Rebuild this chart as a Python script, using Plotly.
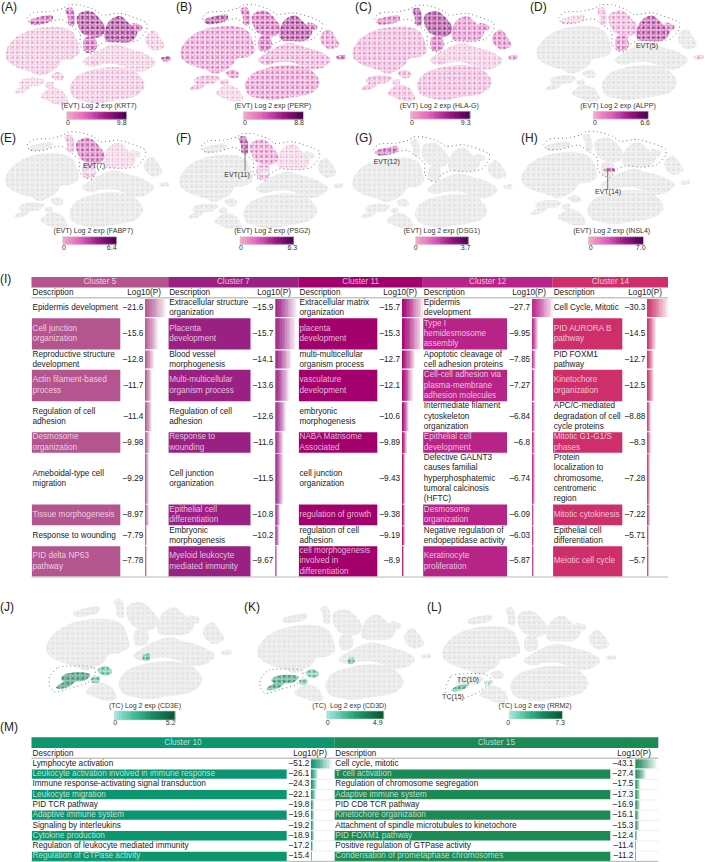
import plotly.graph_objects as go

W, H = 709, 862

# ---------- t-SNE map regions ----------
big_left = [(16,160),(30,130),(48,112),(85,92),(130,82),(190,83),(220,98),(236,138),(238,160),(215,177),(185,182),(172,202),(150,217),(120,228),(95,217),(70,209),(40,197),(20,180)]
low_right = [(210,262),(222,238),(240,223),(300,205),(370,203),(412,220),(434,255),(417,282),(385,295),(340,302),(290,310),(250,304),(220,292)]
mid_right = [(248,186),(275,163),(305,146),(345,133),(390,146),(430,158),(467,185),(447,207),(410,216),(375,202),(345,192),(300,194),(268,200)]
tc_up = [(56,250),(68,238),(110,233),(134,240),(120,256),(92,260),(70,264)]
tc_low = [(42,277),(60,262),(92,258),(80,272),(55,280)]
low_center = [(122,290),(150,263),(175,266),(194,280),(204,308),(175,314),(142,302)]
small_mid = [(153,226),(175,216),(192,228),(187,240),(165,240)]
evt12 = [(88,62),(120,50),(157,46),(157,61),(125,72),(95,74)]
evt11 = [(196,28),(215,23),(224,45),(222,77),(206,74),(203,50)]
evt7 = [(233,45),(270,33),(302,60),(317,90),(297,112),(250,102),(233,75)]
evt5 = [(313,105),(328,63),(360,48),(387,70),(412,95),(397,122),(350,127),(318,122)]
evt5b = [(398,70),(427,80),(420,94),(400,86)]
far_right = [(438,108),(460,90),(480,112),(492,140),(462,152),(438,130)]
tiny = [(483,175),(510,170),(512,180),(490,184)]
evt7b = [(253,115),(284,110),(287,150),(256,157)]
evt14 = [(261,133),(290,133),(290,141),(261,141)]
tc_b = [(136,250),(158,246),(158,260),(138,262)]
tc_c = [(275,184),(292,180),(292,197),(276,198)]
REGIONS = [big_left, low_right, mid_right, tc_up, tc_low, low_center, small_mid, evt12, evt11,
           evt7, evt5, evt5b, far_right, tiny, evt7b, evt14, tc_b, tc_c]

evt_outline = [(82,55),(100,38),(150,35),(190,25),(205,15),(240,15),(285,30),(305,45),(360,40),(440,70),(440,90),(415,120),(370,128),(320,125),(290,140),(280,160),(255,155),(240,135),(240,100),(210,75),(185,58),(160,62),(130,72),(90,70),(82,55)]
tc_outline = [(25,246),(49,219),(143,219),(147,239),(125,264),(80,278),(40,290),(25,273),(25,246)]
tc2_outline = [(25,270),(42,232),(90,225),(140,228),(158,245),(122,280),(80,300),(40,308),(28,292),(25,270)]

# ---------- expression level per region, per gene ----------
KRT7 = [.12,.12,.08,.06,.06,.08,.12,.6,.6,.8,.85,.6,.1,.7,.6,.6,.1,.2]
PERP = [.3,.32,.25,.2,.2,.04,.35,.75,.5,.55,.8,.6,.3,.6,.55,.5,.2,.3]
HLAG = [.22,.2,.1,.22,.2,.18,.25,.45,.75,.85,.35,.45,.4,.35,.5,.5,.1,.2]
ALPP = [0,0,0,0,0,0,0,.06,.15,.25,.7,.45,0,.15,.4,.3,0,0]
FABP7 = [0,0,0,0,0,0,0,0,.2,.55,.03,0,0,0,.2,0,0,0]
PSG2 = [0,0,0,0,0,0,0,0,.7,.3,.04,0,0,0,.2,0,0,0]
DSG1 = [0,0,0,0,0,0,0,.6,0,0,0,0,0,0,0,0,0,0]
INSL4 = [0,0,0,0,0,0,0,0,0,0,0,0,0,0,0,.7,0,0]
CD3E = [0,0,0,.9,.9,0,.55,0,0,0,0,0,0,0,0,0,.6,.7]
CD3D = [0,0,0,.82,.82,0,.5,0,0,0,0,0,0,0,0,0,.55,.65]
RRM2 = [0,0,0,0,.7,0,0,0,0,0,0,0,0,0,0,0,.15,0]

# ---------- enrichment tables ----------
c5_desc = ["Epidermis development","Cell junction<br>organization","Reproductive structure<br>development","Actin filament-based<br>process","Regulation of cell<br>adhesion","Desmosome<br>organization","Ameboidal-type cell<br>migration","Tissue morphogenesis","Response to wounding","PID delta NP63<br>pathway"]
c5_vals = [21.6,15.6,12.8,11.7,11.4,9.98,9.29,8.97,7.79,7.78]
c7_desc = ["Extracellular structure<br>organization","Placenta<br>development","Blood vessel<br>morphogenesis","Multi-multicellular<br>organism process","Regulation of cell<br>adhesion","Response to<br>wounding","Cell junction<br>organization","Epithelial cell<br>differentiation","Embryonic<br>morphogenesis","Myeloid leukocyte<br>mediated immunity"]
c7_vals = [15.9,15.7,14.1,13.6,12.6,11.6,11.5,10.8,10.2,9.67]
c11_desc = ["Extracellular matrix<br>organization","placenta<br>development","multi-multicellular<br>organism process","vasculature<br>development","embryonic<br>morphogenesis","NABA Matrisome<br>Associated","cell junction<br>organization","regulation of growth","regulation of cell<br>adhesion","cell morphogenesis<br>involved in<br>differentiation"]
c11_vals = [15.7,15.3,12.7,12.1,10.6,9.89,9.43,9.38,9.19,8.9]
c12_desc = ["Epidermis<br>development","Type I<br>hemidesmosome<br>assembly","Apoptotic cleavage of<br>cell adhesion proteins","Cell-cell adhesion via<br>plasma-membrane<br>adhesion molecules","Intermediate filament<br>cytoskeleton<br>organization","Epithelial cell<br>development","Defective GALNT3<br>causes familial<br>hyperphosphatemic<br>tumoral calcinosis<br>(HFTC)","Desmosome<br>organization","Negative regulation of<br>endopeptidase activity","Keratinocyte<br>proliferation"]
c12_vals = [27.7,9.95,7.85,7.27,6.84,6.8,6.74,6.09,6.03,5.87]
c14_desc = ["Cell Cycle, Mitotic","PID AURORA B<br>pathway","PID FOXM1<br>pathway","Kinetochore<br>organization","APC/C-mediated<br>degradation of cell<br>cycle proteins","Mitotic G1-G1/S<br>phases","Protein<br>localization to<br>chromosome,<br>centromeric<br>region","Mitotic cytokinesis","Epithelial cell<br>differentiation","Meiotic cell cycle"]
c14_vals = [30.3,14.5,12.7,12.5,8.88,8.3,7.28,7.22,5.71,5.7]
c10_desc = ["Lymphocyte activation","Leukocyte activation involved in immune response","Immune response-activating signal transduction","Leukocyte migration","PID TCR pathway","Adaptive immune system","Signaling by interleukins","Cytokine production","Regulation of leukocyte mediated immunity","Regulation of GTPase activity"]
c10_vals = [51.2,26.1,24.3,22.1,19.8,19.6,19.2,18.9,17.2,15.4]
c15_desc = ["Cell cycle, mitotic","T cell activation","Regulation of chromosome segregation","Adaptive immune system","PID CD8 TCR pathway","Kinetochore organization","Attachment of spindle microtubules to kinetochore","PID FOXM1 pathway","Positive regulation of GTPase activity","Condensation of prometaphase chromosomes"]
c15_vals = [43.1,27.4,17.5,17.3,16.9,16.1,15.3,12.4,11.4,11.2]

# ---------- styling ----------
FONT = "Liberation Sans"
PINK = ["#f4a6c9", "#de5cb8", "#9c1488", "#4d0050"]
GREEN = ["#a2e6de", "#3cbb90", "#14865a", "#0a5a36"]

def rgb(c):
    return tuple(int(c[i:i+2], 16) for i in (1, 3, 5))

def mix(a, b, t):
    a, b = rgb(a), rgb(b)
    return "#%02x%02x%02x" % tuple(round(a[i] + (b[i] - a[i]) * t) for i in range(3))

def ramp(stops, t):
    t = max(0, min(1, t)) * (len(stops) - 1)
    i = min(int(t), len(stops) - 2)
    return mix(stops[i], stops[i + 1], t - i)

# panel: gene values, palette, outline, origin px (x,y), scale (x,y)
PANELS = [
    (KRT7, PINK, evt_outline, 0, 0, 1.0, 1.0),
    (PERP, PINK, evt_outline, 175, 0, 1.0, .97),
    (HLAG, PINK, evt_outline, 347, .7, 1.0, .96),
    (ALPP, PINK, evt_outline, 531, 0, 1.01, .97),
    (FABP7, PINK, evt_outline, 0, 127.3, .99, .97),
    (PSG2, PINK, evt_outline, 174, 129, .99, .96),
    (DSG1, PINK, evt_outline, 347, 132.5, .97, .92),
    (INSL4, PINK, evt_outline, 516, 127, 1.02, .94),
    (CD3E, GREEN, tc_outline, 40.3, 590.7, 1.12, 1.05),
    (CD3D, GREEN, tc_outline, 251.7, 598.7, 1.05, .98),
    (RRM2, GREEN, tc2_outline, 436.7, 600, 1.05, .98),
]
TX, TY = 520, 345

# colour bars: title, max, x0, x1, y0, y1, title x, title y, x of 0, x of max, tick y, palette
BARS = [
    ("(EVT) Log 2 exp (KRT7)", "9.8", 66.7, 126.7, 111.7, 119.3, 99, 106, 68, 121.7, 123, PINK),
    ("(EVT) Log 2 exp (PERP)", "8.8", 243.3, 303.7, 111.7, 119.3, 272.7, 106, 245, 299, 123, PINK),
    ("(EVT) Log 2 exp (HLA-G)", "9.3", 410.3, 470, 111.2, 119, 439.3, 106, 412, 465.7, 123, PINK),
    ("(EVT) Log 2 exp (ALPP)", "6.6", 593.3, 648.3, 111.2, 119, 618, 106, 595, 645, 123, PINK),
    ("(EVT) Log 2 exp (FABP7)", "6.4", 62.7, 116.7, 236.7, 244.3, 93.3, 231.7, 64, 111.7, 248.3, PINK),
    ("(EVT) Log 2 exp (PSG2)", "6.3", 240, 293.7, 236.7, 244.3, 272.3, 231.7, 241, 292.3, 248.3, PINK),
    ("(EVT) Log 2 exp (DSG1)", "3.7", 415.7, 468.3, 236.7, 244.3, 441.7, 231.7, 415.7, 465.7, 248.3, PINK),
    ("(EVT) Log 2 exp (INSL4)", "7.0", 588.3, 643.7, 236.7, 244.3, 611.7, 231.7, 590.7, 640.7, 248.3, PINK),
    ("(TC) Log 2 exp (CD3E)", "5.2", 114.3, 175, 711, 720, 145, 706.3, 115.3, 170.7, 723.7, GREEN),
    ("(TC)  Log 2 exp (CD3D)", "4.9", 326.7, 384, 711, 719, 349.3, 706.3, 327.7, 377.7, 723.7, GREEN),
    ("(TC) Log 2 exp (RRM2)", "7.3", 509.3, 562.7, 711, 719, 535, 706.3, 508.3, 560, 723.7, GREEN),
]

PANEL_LABELS = [("(A)",1,8),("(B)",176,8),("(C)",355,8),("(D)",530,8),("(E)",0,139),("(F)",176,139),
                ("(G)",355,139),("(H)",521,139),("(I)",0,280),("(J)",0,608),("(K)",244,608),("(L)",427,608),("(M)",0,728)]
CALLOUTS = [("EVT(5)",647,46.7),("EVT(7)",94,166),("EVT(11)",237,175),("EVT(12)",386.7,162),("EVT(14)",608,192.7),("TC(10)",468,680),("TC(15)",453,697.7)]
LEADERS = [(245,148,245,170.7),(607.7,170.7,607.7,189)]

TABLE_I = [
    ("Cluster 5", c5_desc, c5_vals, "#b4558f", 31.5, 168.2, 120.3, 143.3, 145, 161),
    ("Cluster 7", c7_desc, c7_vals, "#9b2084", 168.2, 298.5, 250.5, 273.3, 275.3, 291),
    ("Cluster 11", c11_desc, c11_vals, "#a3006e", 298.5, 422.8, 377.3, 400, 402, 417),
    ("Cluster 12", c12_desc, c12_vals, "#b82388", 422.8, 552.7, 507, 530, 532, 546),
    ("Cluster 14", c14_desc, c14_vals, "#ce2f6a", 552.7, 668, 622.3, 645.3, 647, 662),
]
I_EDGES = [298.5, 317.7, 350, 369.3, 401.7, 431.7, 453.3, 504, 525.7, 545.7, 577]
TABLE_M = [
    ("Cluster 10", c10_desc, c10_vals, "#0b9670", 31.5, 334.3, 286.7, 309.3, 311, 327),
    ("Cluster 15", c15_desc, c15_vals, "#1b8a55", 334.3, 658.3, 610.3, 633.3, 635.3, 651),
]
M_EDGES = [758.8 + 10.26 * i for i in range(11)]
LINE_H = 10.3
TS = 8.2

# the page axes are numbered last so that they are drawn over every map
PX, PY = "x12", "y12"

fig = go.Figure()
shapes = []
layout_axes = dict(
    xaxis12=dict(domain=[0, 1], range=[0, W], visible=False, fixedrange=True, anchor="y12"),
    yaxis12=dict(domain=[0, 1], range=[H, 0], visible=False, fixedrange=True, anchor="x12"),
)

def text_trace(xs, ys, texts, color, size, pos):
    fig.add_trace(go.Scatter(x=xs, y=ys, text=texts, mode="text", textposition=pos,
                             textfont=dict(family=FONT, size=size, color=color),
                             hoverinfo="skip", showlegend=False, xaxis=PX, yaxis=PY, cliponaxis=False))

# maps
for n, (levels, pal, outline, ox, oy, sx, sy) in enumerate(PANELS):
    k = n + 1
    sfx = "" if k == 1 else str(k)
    x0, x1 = ox, ox + TX * sx / 3
    y0, y1 = oy, oy + TY * sy / 3
    layout_axes[f"xaxis{sfx}"] = dict(domain=[x0 / W, x1 / W], range=[0, TX], visible=False, anchor=f"y{sfx}", fixedrange=True)
    layout_axes[f"yaxis{sfx}"] = dict(domain=[1 - y1 / H, 1 - y0 / H], range=[TY, 0], visible=False, anchor=f"x{sfx}", fixedrange=True)
    for poly, lv in zip(REGIONS, levels):
        xs = [p[0] for p in poly] + [poly[0][0]]
        ys = [p[1] for p in poly] + [poly[0][1]]
        if lv == 0:
            fg, bg, sol, over, osol = "#e0e0e0", "#f6f6f6", .62, "#d6d6d6", .32
        else:
            fg = ramp(pal, lv * .8)
            bg = mix("#f6f3f4", "#fbe4f2" if pal is PINK else "#dff6f0", min(1, lv * 2))
            sol = .3 + lv * .55
            over = ramp(pal, min(1, lv + .18))
            osol = .12 + .2 * min(1, lv * 2)
        for size, solidity, color, back in ((3, sol, fg, bg), (5, osol, over, "rgba(0,0,0,0)")):
            fig.add_trace(go.Scatter(x=xs, y=ys, mode="lines", fill="toself",
                                     line=dict(width=0, shape="spline", smoothing=1),
                                     fillcolor=back, fillpattern=dict(shape=".", size=size, solidity=solidity, fgcolor=color, bgcolor=back),
                                     hoverinfo="skip", showlegend=False, xaxis=f"x{sfx}", yaxis=f"y{sfx}"))
    fig.add_trace(go.Scatter(x=[p[0] for p in outline], y=[p[1] for p in outline], mode="lines",
                             line=dict(color="#777777", width=1, dash="1px,3px", shape="spline", smoothing=.6), hoverinfo="skip",
                             showlegend=False, xaxis=f"x{sfx}", yaxis=f"y{sfx}"))

# colour bars
for title, vmax, x0, x1, y0, y1, tx, ty, z0, zm, tick_y, pal in BARS:
    n = 24
    fig.add_trace(go.Heatmap(x=[x0 + (x1 - x0) * i / n for i in range(n + 1)], y=[y0, y1],
                             z=[[i / (n - 1) for i in range(n)]], zmin=0, zmax=1, showscale=False,
                             colorscale=[[i / 3, c] for i, c in enumerate(pal)], hoverinfo="skip", xaxis=PX, yaxis=PY))
    shapes.append(dict(type="rect", xref=PX, yref=PY, x0=x0, x1=x1, y0=y0, y1=y1, line=dict(color="#d0d0d0", width=.6), layer="above"))
    text_trace([tx, z0, zm], [ty, tick_y, tick_y], [title, "0", vmax], "#333333", 7, "middle center")

text_trace([p[1] for p in PANEL_LABELS], [p[2] for p in PANEL_LABELS], [p[0] for p in PANEL_LABELS], "#222222", 12, "middle right")
text_trace([c[1] for c in CALLOUTS], [c[2] for c in CALLOUTS], [c[0] for c in CALLOUTS], "#333333", 7, "middle center")
for x0, y0, x1, y1 in LEADERS:
    shapes.append(dict(type="line", xref=PX, yref=PY, x0=x0, x1=x1, y0=y0, y1=y1, line=dict(color="#777777", width=1), layer="above"))

def draw_table(columns, edges, head_y, sub_y, rule_y, bar_max, min_w, grid):
    for title, desc, vals, color, cx0, cx1, fill_r, num_r, bar_x, log_r in columns:
        pale = mix(color, "#ffffff", .72)
        shapes.append(dict(type="rect", xref=PX, yref=PY, x0=cx0, x1=cx1, y0=head_y[0], y1=head_y[1], fillcolor=color, line=dict(width=0), layer="below"))
        text_trace([(cx0 + cx1) / 2], [(head_y[0] + head_y[1]) / 2], [title], pale, TS, "middle center")
        text_trace([cx0 + 1], [sub_y], ["Description"], "#222222", TS, "middle right")
        text_trace([log_r], [sub_y], ["Log10(P)"], "#222222", TS, "middle left")
        lo, hi = min(vals), max(vals)
        dark = ([], [], [])
        light = ([], [], [])
        num = ([], [], [])
        for r, (d, v) in enumerate(zip(desc, vals)):
            top, bot = edges[r], edges[r + 1]
            mid = (top + bot) / 2
            filled = r % 2 == 1
            if filled:
                shapes.append(dict(type="rect", xref=PX, yref=PY, x0=cx0 + .4, x1=fill_r, y0=top + .5, y1=bot - .5, fillcolor=color, line=dict(width=0), layer="below"))
            lines = d.split("<br>")
            store = light if filled else dark
            for i, ln in enumerate(lines):
                store[0].append(cx0 + 1)
                store[1].append(mid + (i - (len(lines) - 1) / 2) * LINE_H)
                store[2].append(ln)
            num[0].append(num_r)
            num[1].append(mid)
            num[2].append("\u2013" + str(v))
            width = min_w + (v - lo) / (hi - lo) * bar_max
            m = 12
            fade = mix(color, "#ffffff", .9)
            fig.add_trace(go.Heatmap(x=[bar_x + width * i / m for i in range(m + 1)], y=[top + .5, bot - .5],
                                     z=[[i / (m - 1) for i in range(m)]], zmin=0, zmax=1, showscale=False,
                                     colorscale=[[0, mix(color, "#ffffff", .05)], [.3, mix(color, "#ffffff", .25)], [1, fade]],
                                     hoverinfo="skip", xaxis=PX, yaxis=PY))
            if grid:
                shapes.append(dict(type="line", xref=PX, yref=PY, x0=fill_r, x1=cx1, y0=bot, y1=bot, line=dict(color="#e6e6e6", width=.7), layer="below"))
        text_trace(dark[0], dark[1], dark[2], "#222222", TS, "middle right")
        if light[0]:
            text_trace(light[0], light[1], light[2], pale, TS, "middle right")
        text_trace(num[0], num[1], num[2], "#222222", TS, "middle left")
    x0, x1 = columns[0][4], columns[-1][5]
    shapes.append(dict(type="line", xref=PX, yref=PY, x0=x0, x1=x1, y0=rule_y, y1=rule_y, line=dict(color="#c4c4c4", width=1.5), layer="below"))
    shapes.append(dict(type="line", xref=PX, yref=PY, x0=x0, x1=x1, y0=edges[-1], y1=edges[-1], line=dict(color="#b8b8b8", width=1), layer="below"))

draw_table(TABLE_I, I_EDGES, (277, 287.5), 292.7, 297.8, 19, 2, False)
draw_table(TABLE_M, M_EDGES, (737.3, 748), 753.7, 758.3, 19.7, 1, True)

fig.update_layout(width=W, height=H, margin=dict(l=0, r=0, t=0, b=0), paper_bgcolor="white", plot_bgcolor="rgba(0,0,0,0)",
                  showlegend=False, shapes=shapes, **layout_axes)
fig.write_html("out.html", config=dict(displayModeBar=False), post_script="document.body.style.margin='0';")
